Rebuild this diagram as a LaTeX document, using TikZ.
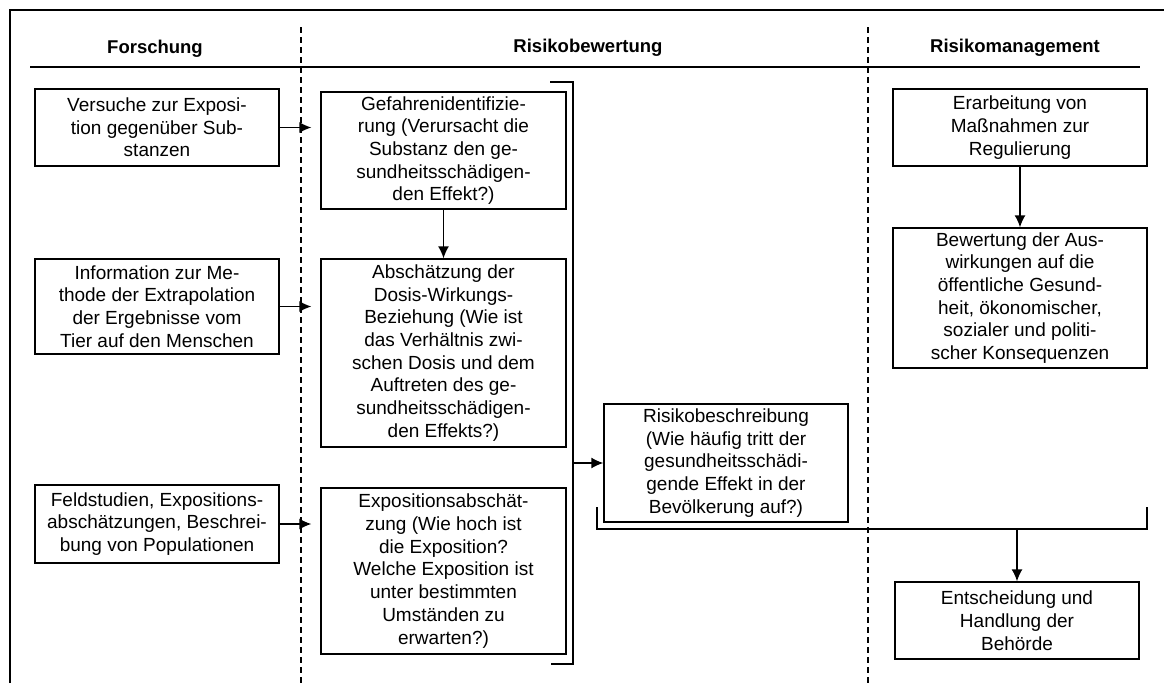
\documentclass[tikz,border=0pt]{standalone}
\usepackage{fontspec}
\setmainfont{Liberation Sans}
\usepackage{tikz}
\usetikzlibrary{arrows.meta}
\tikzstyle{box}=[draw, line width=1.4pt, inner sep=0pt, align=center, font=\fontsize{19}{22.7}\selectfont]
\tikzstyle{rbox}=[box, minimum width=244pt]
\tikzstyle{head}=[font=\fontsize{18.5}{22}\selectfont\bfseries]
\tikzstyle{lane}=[line width=1.4pt, dash pattern=on 6pt off 4pt]
\tikzstyle{flow}=[line width=1.4pt, -{Latex[length=12pt,width=11pt]}]

\begin{document}
\begin{tikzpicture}[x=1pt, y=-1pt]
        \useasboundingbox (0,0) rectangle (1164,683);
        \draw[line width=2.6pt] (10,683) -- (10,10) -- (1164,10);
        \node[head] (hF) at (155,49) {Forschung};
        \node[head] (hB) at (588,48) {Risikobewertung};
        \node[head] (hM) at (1015,48) {Risikomanagement};
        \draw[line width=1.4pt] (30,67) -- (1140,67);
        \draw[lane] (301,27) -- (301,683);
        \draw[lane] (868,27) -- (868,683);
        \node[rbox, minimum height=77pt] (A1) at (157,127.5) {Versuche zur Exposi-\\tion gegenüber Sub-\\stanzen};
        \node[rbox, minimum height=95pt] (A2) at (157,306.5) {Information zur Me-\\thode der Extrapolation\\der Ergebnisse vom\\Tier auf den Menschen};
        \node[rbox, minimum height=78pt] (A3) at (157,524) {Feldstudien, Expositions-\\abschätzungen, Beschrei-\\bung von Populationen};
        \node[rbox, minimum width=245pt, minimum height=117pt] (B1) at (443.5,150.5) {Gefahrenidentifizie-\\rung (Verursacht die\\Substanz den ge-\\sundheitsschädigen-\\den Effekt?)};
        \node[rbox, minimum width=245pt, minimum height=188pt] (B2) at (443.5,353) {Abschätzung der\\Dosis-Wirkungs-\\Beziehung (Wie ist\\das Verhältnis zwi-\\schen Dosis und dem\\Auftreten des ge-\\sundheitsschädigen-\\den Effekts?)};
        \node[rbox, minimum width=245pt, minimum height=166pt] (B3) at (443.5,571) {Expositionsabschät-\\zung (Wie hoch ist\\die Exposition?\\Welche Exposition ist\\unter bestimmten\\Umständen zu\\erwarten?)};
        \node[rbox, minimum height=118pt] (C) at (726,463) {Risikobeschreibung\\(Wie häufig tritt der\\gesundheitsschädi-\\gende Effekt in der\\Bevölkerung auf?)};
        \node[box, minimum width=254pt, minimum height=77pt] (D1) at (1020,127.5) {Erarbeitung von\\Maßnahmen zur\\Regulierung};
        \node[box, minimum width=254pt, minimum height=140pt] (D2) at (1020,298) {Bewertung der Aus-\\wirkungen auf die\\öffentliche Gesund-\\heit, ökonomischer,\\sozialer und politi-\\scher Konsequenzen};
        \node[rbox, minimum height=77pt] (E) at (1017,620.5) {Entscheidung und\\Handlung der\\Behörde};
        \draw[flow, shorten >=9pt] (A1.east) -- (A1.east -| B1.west);
        \draw[flow, shorten >=9pt] (A2.east) -- (A2.east -| B2.west);
        \draw[flow, shorten >=9pt] (A3.east) -- (A3.east -| B3.west);
        \draw[flow] (B1) -- (B2);
        \coordinate (brT) at (573,82);
        \coordinate (brB) at (573,664);
        \draw[line width=1.4pt] (brT) ++(-23,0) -- (brT) -- (brB) -- ++(-22,0);
        \draw[flow] (brT |- C.west) -- (C.west);
        \coordinate (lbL) at (597,507);
        \coordinate (lbR) at (1147,507);
        \draw[line width=1.4pt] (lbL) -- ++(0,22) -| (lbR);
        \coordinate (lbM) at (1017,529);
        \draw[flow] (lbM) -- (E.north);
        \draw[flow] (D1) -- (D2);
    \end{tikzpicture}
\end{document}
